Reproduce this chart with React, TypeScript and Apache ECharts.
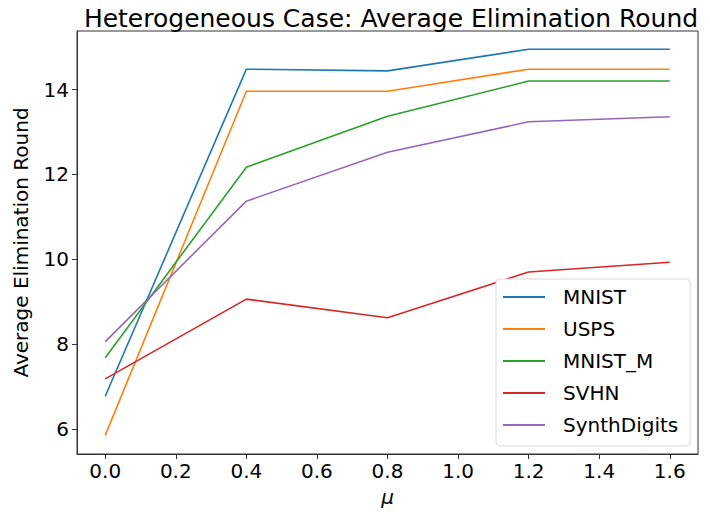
import React, { useEffect, useRef } from "react";
import * as echarts from "echarts";

const muValues = [0.0, 0.4, 0.8, 1.2, 1.6];
const seriesNames = ["MNIST", "USPS", "MNIST_M", "SVHN", "SynthDigits"];
const mnist = [6.77, 14.48, 14.44, 14.95, 14.95];
const usps = [5.85, 13.96, 13.96, 14.48, 14.48];
const mnistM = [7.68, 12.17, 13.37, 14.2, 14.2];
const svhn = [7.18, 9.06, 8.62, 9.7, 9.93];
const synthDigits = [8.06, 11.37, 12.52, 13.24, 13.36];
const xTicks = [0, 0.2, 0.4, 0.6, 0.8, 1.0, 1.2, 1.4, 1.6];
const yTicks = [6, 8, 10, 12, 14];
const colors = ["#1f77b4", "#ff7f0e", "#2ca02c", "#d62728", "#9467bd"];

const allValues = [mnist, usps, mnistM, svhn, synthDigits];

export default function App() {
  const ref = useRef<HTMLDivElement>(null);
  useEffect(() => {
    if (!ref.current) return;
    const chart = echarts.init(ref.current, null, { renderer: "svg" });
    const font = "DejaVu Sans";
    chart.setOption({
      animation: false,
      backgroundColor: "#ffffff",
      title: {
        text: "Heterogeneous Case: Average Elimination Round",
        left: 386,
        textAlign: "center",
        top: 1,
        textStyle: { fontFamily: font, fontSize: 25, fontWeight: "normal", color: "#000" },
      },
      grid: {
        left: 77,
        right: 12,
        top: 31,
        bottom: 55,
        show: true,
        borderColor: "#333",
        borderWidth: 1,
        containLabel: false,
      },
      legend: {
        orient: "vertical",
        left: 496,
        top: 279,
        data: seriesNames,
        itemWidth: 42,
        itemHeight: 14,
        itemGap: 12,
        padding: [8, 12, 11, 7],
        backgroundColor: "#fff",
        borderColor: "#d9d9d9",
        borderWidth: 1,
        borderRadius: 4,
        icon: "path://M0,6 L42,6 L42,8 L0,8 Z",
        textStyle: { fontFamily: font, fontSize: 20, color: "#000", padding: [0, 0, 0, 13] },
      },
      xAxis: {
        type: "value",
        min: -0.08,
        max: 1.68,
        name: "μ",
        nameLocation: "middle",
        nameGap: 33,
        nameTextStyle: { fontFamily: font, fontSize: 20, fontStyle: "italic", color: "#000" },
        splitLine: { show: false },
        axisLine: { show: true, onZero: false, lineStyle: { color: "#333" } },
        axisTick: { show: true, customValues: xTicks, length: 5, lineStyle: { color: "#333" } },
        axisLabel: {
          customValues: xTicks,
          fontFamily: font,
          fontSize: 20,
          color: "#000",
          margin: 7,
          formatter: (v: number) => v.toFixed(1),
        },
      },
      yAxis: {
        type: "value",
        min: 5.41,
        max: 15.38,
        name: "Average Elimination Round",
        nameLocation: "middle",
        nameGap: 46,
        nameTextStyle: { fontFamily: font, fontSize: 20, color: "#000" },
        splitLine: { show: false },
        axisLine: { show: true, onZero: false, lineStyle: { color: "#333" } },
        axisTick: { show: true, customValues: yTicks, length: 5, lineStyle: { color: "#333" } },
        axisLabel: {
          customValues: yTicks,
          fontFamily: font,
          fontSize: 20,
          color: "#000",
          margin: 8,
          formatter: (v: number) => String(Math.round(v)),
        },
      },
      series: seriesNames.map((name, i) => ({
        name,
        type: "line",
        data: muValues.map((x, j) => [x, allValues[i][j]]),
        symbol: "none",
        color: colors[i],
        lineStyle: { width: 1.6, color: colors[i] },
        itemStyle: { color: colors[i] },
      })),
    });
    return () => chart.dispose();
  }, []);
  return (
    <div
      ref={ref}
      style={{ position: "absolute", left: 0, top: 0, width: 710, height: 512 }}
    />
  );
}
